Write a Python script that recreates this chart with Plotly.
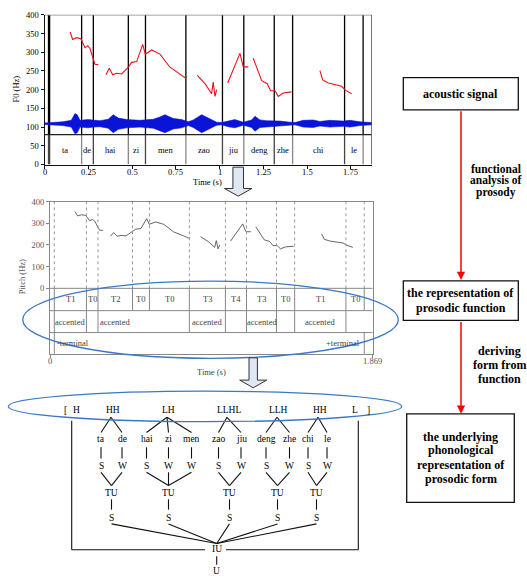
import plotly.graph_objects as go

W, H = 527, 580
FONT = "Liberation Serif"

# ---------------- data ----------------
duration = 1.869
syllables = ["ta", "de", "hai", "zi", "men", "zao", "jiu", "deng", "zhe", "chi", "le"]
boundaries = [0.025, 0.211, 0.278, 0.478, 0.576, 0.807, 1.016, 1.138, 1.312, 1.417, 1.714, 1.82]
tones = ["T1", "T0", "T2", "T0", "T0", "T3", "T4", "T3", "T0", "T1", "T0"]
accents = ["accented", "", "accented", "", "", "accented", "", "accented", "", "accented", ""]
accent_bounds = [0.211, 0.278, 0.807, 1.016, 1.138, 1.312, 1.417, 1.714]
terminal_labels = ["-terminal", "+terminal"]
terminal_times = [0.135, 1.695]

f0_t = [0.145, 0.16, 0.183, 0.207, 0.23, 0.246, 0.259, 0.287, 0.306, None,
        0.35, 0.369, 0.389, 0.411, 0.44, 0.478, 0.497, 0.526, 0.56, 0.575, 0.611, 0.659, 0.716, 0.773, 0.802, 0.811, None,
        0.872, 0.916, 0.954, 0.963, 0.973, 0.983, None,
        1.046, 1.087, 1.116, 1.135, 1.163, None,
        1.192, 1.24, 1.272, 1.291, 1.316, 1.335, 1.363, 1.411, None,
        1.573, 1.589, 1.621, 1.697, 1.72, 1.754]
f0_hz = [354, 334, 339, 336, 312, 317, 310, 268, 267, None,
         240, 257, 240, 244, 242, 260, 273, 275, 321, 295, 306, 295, 260, 242, 232, 233, None,
         238, 216, 189, 220, 182, 200, None,
         218, 264, 297, 261, 261, None,
         284, 224, 216, 197, 197, 182, 191, 194, None,
         251, 226, 218, 209, 198, 189]

wave_base = 109
env_t = [0.0, 0.103, 0.152, 0.173, 0.186, 0.202, 0.249, 0.278, 0.316, 0.363, 0.392, 0.421, 0.469,
         0.545, 0.621, 0.659, 0.687, 0.735, 0.783, 0.821, 0.84, 0.849, 0.897, 0.945, 0.983, 1.011,
         1.049, 1.087, 1.135, 1.183, 1.202, 1.23, 1.268, 1.345, 1.402, 1.43, 1.478, 1.535, 1.573,
         1.63, 1.706, 1.745, 1.802, 1.869]
env_amp = [2, 5, 9, 27, 24, 9, 11, 9, 8, 12, 24, 15, 11,
           9, 12, 18, 24, 14, 11, 5, 8, 10, 24, 12, 4, 3,
           8, 11, 4, 10, 20, 10, 8, 7, 4, 3, 9, 10, 6,
           9, 7, 9, 5, 3]

top_yticks = [0, 50, 100, 150, 200, 250, 300, 350, 400]
top_xticks = [0, 0.25, 0.5, 0.75, 1, 1.25, 1.5, 1.75]
top_xticklabels = ["0", "0.25", "0.5", "0.75", "1", "1.25", "1.5", "1.75"]
mid_yticks = [0, 100, 200, 300, 400]
mid_xticks = [0, duration]
mid_xticklabels = ["0", "1.869"]

# phonological tree
tone_labels = ["H", "HH", "LH", "LLHL", "LLH", "HH", "L"]
tone_links = [[], [0, 1], [2, 3, 4], [5, 6], [7, 8], [9, 10], []]
sw_labels = ["S", "W", "S", "W", "W", "S", "W", "S", "W", "S", "W"]
tu_groups = [[0, 1], [2, 3, 4], [5, 6], [7, 8], [9, 10]]

# flowchart
box_texts = [["acoustic signal"],
             ["the representation of", "prosodic function"],
             ["the underlying", "phonological", "representation of", "prosodic form"]]
step_texts = [["functional", "analysis of", "prosody"],
              ["deriving", "form from", "function"]]

# ---------------- layout positions (pixels) ----------------
def px(x):
    return x / W

def py(y):
    return 1 - y / H

TOP_X = (44.7, 371.7); TOP_Y = (10, 162.3)
MID_X = (50, 372.7); MID_Y = (200, 355)
mid_px_per_hz = (288.3 - 200) / 400.0
mid_bottom = -(355 - 288.3) / mid_px_per_hz
tier_rows = [0, -(311 - 288.3) / mid_px_per_hz, -(333.3 - 288.3) / mid_px_per_hz, mid_bottom]

col_x = [101, 122, 146.5, 168.5, 191.5, 218.5, 241, 266, 289.5, 308, 327]
tone_x = [76.7, 112.5, 168.5, 228.5, 278.5, 319.5, 355]
tu_x = [111.5, 168.5, 229.5, 277.5, 316.5]
iu_x = 216.7
ROW = dict(tone=412.5, syl=441.7, sw=469, tu=496.7, s=522.3, iu=554, u=576)

fig = go.Figure()
annotations = []
C = dict(xanchor="center", yanchor="middle", showarrow=False)

def label(x, y, s, xref, yref, size, color="black", bold=False, angle=0):
    annotations.append(dict(x=x, y=y, xref=xref, yref=yref, text=f"<b>{s}</b>" if bold else s,
                            textangle=angle, font=dict(family=FONT, size=size, color=color), **C))

# ---------------- top chart ----------------
mids = [(boundaries[i] + boundaries[i + 1]) / 2 for i in range(len(syllables))]
up = [wave_base + a for a in env_amp]
lo = [wave_base - a for a in env_amp]
fig.add_trace(go.Scatter(x=env_t + env_t[::-1], y=up + lo[::-1], fill="toself",
                         fillcolor="#0a14d8", line=dict(color="#0a14d8", width=0.6),
                         mode="lines", hoverinfo="skip", xaxis="x", yaxis="y"))
fig.add_trace(go.Scatter(x=f0_t, y=f0_hz, mode="lines", line=dict(color="#e8121a", width=1.1),
                         connectgaps=False, xaxis="x", yaxis="y"))
for m, s in zip(mids, syllables):
    label(m, 40, s, "x", "y", 8.5)
for t, s in zip(top_xticks, top_xticklabels):
    label(t, py(169.5), s, "x", "paper", 8.5)

shapes = []
for i, b in enumerate(boundaries):
    w = 2.4 if i == 0 else 1.3
    shapes.append(dict(type="line", xref="x", yref="y", x0=b, x1=b, y0=80, y1=400,
                       line=dict(color="black", width=w), layer="below"))
    shapes.append(dict(type="line", xref="x", yref="y", x0=b, x1=b, y0=0, y1=80,
                       line=dict(color="#444" if i % 2 == 0 else "#888", width=w), layer="below"))
shapes.append(dict(type="line", xref="x", yref="y", x0=0, x1=duration, y0=80, y1=80,
                   line=dict(color="#222", width=1.3)))
shapes.append(dict(type="line", xref="x", yref="y", x0=0, x1=duration, y0=400, y1=400,
                   line=dict(color="#888", width=1.5)))
shapes.append(dict(type="line", xref="x", yref="y", x0=duration, x1=duration, y0=0, y1=400,
                   line=dict(color="#333", width=1.3)))

# ---------------- middle chart ----------------
fig.add_trace(go.Scatter(x=f0_t, y=f0_hz, mode="lines", line=dict(color="#555", width=0.9),
                         connectgaps=False, xaxis="x2", yaxis="y2"))
tier_c = [(tier_rows[k] + tier_rows[k + 1]) / 2 for k in range(3)]
for m, s in zip(mids, tones):
    label(m, tier_c[0], s, "x2", "y2", 8.5, "#444")
for m, s in zip(mids, accents):
    if s:
        label(m, tier_c[1], s, "x2", "y2", 8.5, "#444")
for t, s in zip(terminal_times, terminal_labels):
    label(t, tier_c[2], s, "x2", "y2", 8.5, "#444")
for t, s in zip(mid_xticks, mid_xticklabels):
    label(t, py(362.7), s, "x2", "paper", 8.5, "#555")

for b in boundaries:
    shapes.append(dict(type="line", xref="x2", yref="y2", x0=b, x1=b, y0=0, y1=400,
                       line=dict(color="#999", width=1, dash="dot")))
    shapes.append(dict(type="line", xref="x2", yref="y2", x0=b, x1=b, y0=tier_rows[1], y1=0,
                       line=dict(color="#888", width=1)))
for b in [boundaries[0]] + accent_bounds:
    shapes.append(dict(type="line", xref="x2", yref="y2", x0=b, x1=b, y0=tier_rows[2], y1=tier_rows[1],
                       line=dict(color="#888", width=1)))
for b in [boundaries[0], boundaries[-1]]:
    shapes.append(dict(type="line", xref="x2", yref="y2", x0=b, x1=b, y0=mid_bottom, y1=tier_rows[2],
                       line=dict(color="#888", width=1)))
for r in tier_rows[:3]:
    shapes.append(dict(type="line", xref="x2", yref="y2", x0=0, x1=duration, y0=r, y1=r,
                       line=dict(color="#888", width=1)))

# ---------------- overlay (pixel coords): tree, flowchart, ellipses, arrows ----------------
TS = 9.5
label(65, ROW["tone"], "[", "x3", "y3", TS)
label(368.3, ROW["tone"], "]", "x3", "y3", TS)
for x, s in zip(tone_x, tone_labels):
    label(x, ROW["tone"], s, "x3", "y3", TS)
for x, s in zip(col_x, syllables):
    label(x, ROW["syl"], s, "x3", "y3", TS)
for x, s in zip(col_x, sw_labels):
    label(x, ROW["sw"], s, "x3", "y3", TS)
for x in tu_x:
    label(x, ROW["tu"], "TU", "x3", "y3", TS)
    label(x, ROW["s"], "S", "x3", "y3", TS)
label(iu_x, ROW["iu"], "IU", "x3", "y3", TS)
label(iu_x, ROW["u"], "U", "x3", "y3", TS)

lx, ly = [], []
def seg(x0, y0, x1, y1):
    lx.extend([x0, x1, None]); ly.extend([y0, y1, None])

for tx0, links in zip(tone_x, tone_links):
    for j in links:
        seg(tx0 - 1.5, 419.5, col_x[j], 435)
for x in col_x:
    seg(x, 450, x, 461.5)
for tux, grp in zip(tu_x, tu_groups):
    for j in grp:
        seg(col_x[j], 475.5, tux, 489)
    seg(tux, 503, tux, 513.5)
    seg(tux, 528, iu_x, 548)
seg(iu_x, 561, iu_x, 569.5)
# enclosing bracket
seg(71.7, 423, 71.7, 554.3); seg(71.7, 554.3, 205, 554.3)
seg(226, 554.3, 358.3, 554.3); seg(358.3, 554.3, 358.3, 423)

fig.add_trace(go.Scatter(x=lx, y=ly, mode="lines", line=dict(color="#111", width=1.1),
                         xaxis="x3", yaxis="y3", hoverinfo="skip"))

# ellipses
shapes.append(dict(type="circle", xref="x3", yref="y3", x0=22.7, x1=398.3, y0=281, y1=359.5,
                   line=dict(color="#3b78c8", width=1.3), layer="above"))
shapes.append(dict(type="circle", xref="x3", yref="y3", x0=8.3, x1=401.7, y0=393, y1=424,
                   line=dict(color="#3b78c8", width=1.3), layer="above"))

# block arrows
def block_arrow(cx, top, base, tip, shaft_hw, head_hw):
    return (f"M{cx - shaft_hw},{top} L{cx + shaft_hw},{top} L{cx + shaft_hw},{base} "
            f"L{cx + head_hw},{base} L{cx},{tip} L{cx - head_hw},{base} L{cx - shaft_hw},{base} Z")
shapes.append(dict(type="path", xref="x3", yref="y3", path=block_arrow(238.2, 165, 186.7, 194.5, 5.3, 13.7),
                   fillcolor="#dfe7f3", line=dict(color="#333", width=1), layer="above"))
shapes.append(dict(type="path", xref="x3", yref="y3", path=block_arrow(253.2, 359, 381.7, 389.5, 4.2, 13.5),
                   fillcolor="#dfe7f3", line=dict(color="#333", width=1), layer="above"))

# flowchart boxes
boxes = [(403.3, 74, 518.3, 106.7), (403.3, 280.7, 518.3, 321), (406.7, 416, 514.3, 506)]
box_line_y = [[90.5], [292.7, 308.3], [439.3, 453.3, 468.3, 482.3]]
for (x0, y0, x1, y1) in boxes:
    shapes.append(dict(type="rect", xref="x3", yref="y3", x0=x0, x1=x1, y0=y0, y1=y1,
                       line=dict(color="#111", width=1.3), fillcolor="white", layer="above"))
for (x0, y0, x1, y1), lines, ys in zip(boxes, box_texts, box_line_y):
    for s, yy in zip(lines, ys):
        label((x0 + x1) / 2, yy, s, "x3", "y3", 12, bold=True)
step_pos = [(496, [167, 179, 191], 11.5), (499, [351.7, 366, 381], 12)]
for lines, (sx, ys, fs) in zip(step_texts, step_pos):
    for s, yy in zip(lines, ys):
        label(sx, yy, s, "x3", "y3", fs, bold=True)
for (x, y0, y1) in [(461, 106.7, 279.8), (461, 321, 416)]:
    annotations.append(dict(x=x, y=y1, ax=x, ay=y0, xref="x3", yref="y3", axref="x3", ayref="y3",
                            text="", showarrow=True, arrowhead=2, arrowsize=1.1, arrowwidth=1.5,
                            arrowcolor="#ff0000", standoff=0))

# axis titles
label(px(16), py(86), "F0 (Hz)", "paper", "paper", 8.5, angle=-90)
label(px(207), py(180), "Time (s)", "paper", "paper", 8.5)
label(px(22), py(277), "Pitch (Hz)", "paper", "paper", 8.5, "#555", angle=-90)
label(px(211.7), py(373), "Time (s)", "paper", "paper", 8.5, "#444")

tickfont = dict(family=FONT, size=8.5, color="black")
fig.update_layout(
    width=W, height=H, margin=dict(l=0, r=0, t=0, b=0),
    paper_bgcolor="white", plot_bgcolor="rgba(0,0,0,0)", showlegend=False,
    xaxis=dict(domain=[px(TOP_X[0]), px(TOP_X[1])], range=[0, duration], tickvals=top_xticks,
               showticklabels=False, ticks="outside", ticklen=3, tickcolor="#111",
               showline=True, linecolor="#111", linewidth=1.3, showgrid=False, zeroline=False,
               anchor="y"),
    yaxis=dict(domain=[py(TOP_Y[1]), py(TOP_Y[0])], range=[0, 400], tickvals=top_yticks,
               ticks="outside", ticklen=3, tickcolor="#111", showline=True, linecolor="#111",
               linewidth=1.3, showgrid=False, zeroline=False, tickfont=tickfont, anchor="x"),
    xaxis2=dict(domain=[px(MID_X[0]), px(MID_X[1])], range=[0, duration], tickvals=mid_xticks,
                showticklabels=False, ticks="outside", ticklen=3, tickcolor="#888",
                showline=True, mirror=True, linecolor="#888", linewidth=1, showgrid=False,
                zeroline=False, anchor="y2"),
    yaxis2=dict(domain=[py(MID_Y[1]), py(MID_Y[0])], range=[mid_bottom, 400], tickvals=mid_yticks,
                ticks="outside", ticklen=3, tickcolor="#888", showline=True, mirror=True,
                linecolor="#888", linewidth=1, showgrid=False, zeroline=False,
                tickfont=dict(family=FONT, size=8.5, color="#555"), anchor="x2"),
    xaxis3=dict(domain=[0, 1], range=[0, W], visible=False, anchor="y3", fixedrange=True),
    yaxis3=dict(domain=[0, 1], range=[H, 0], visible=False, anchor="x3", fixedrange=True),
    shapes=shapes, annotations=annotations,
)

fig.write_html("out.html", config={"displayModeBar": False},
               post_script="document.body.style.margin='0';document.body.style.overflow='hidden';")
